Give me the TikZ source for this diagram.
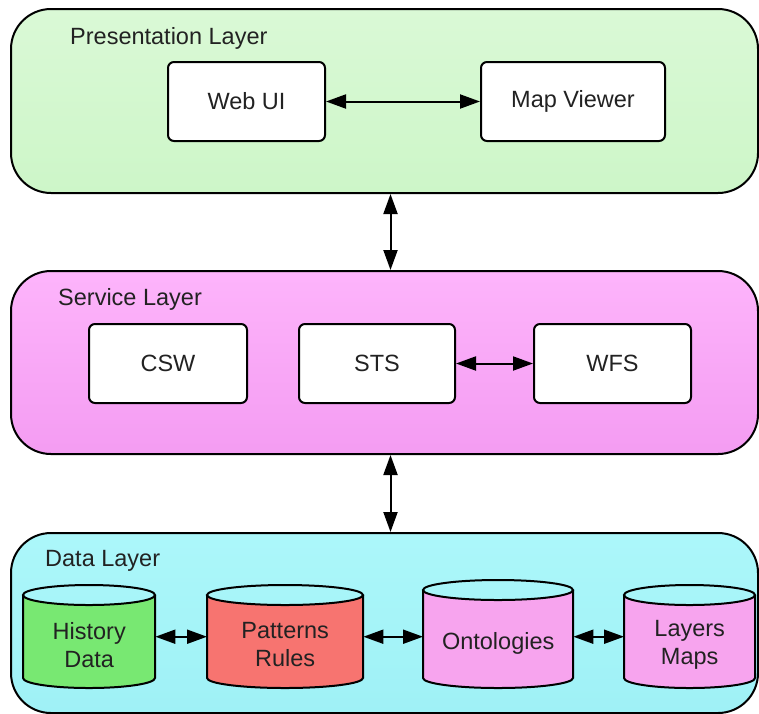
\documentclass[tikz,border=0pt]{standalone}
\usepackage{fontspec}
\setmainfont{Liberation Sans}
\usetikzlibrary{arrows.meta,calc}
\definecolor{txt}{HTML}{222222}
\definecolor{presA}{HTML}{DAF9D6}
\definecolor{presB}{HTML}{CDF6C8}
\definecolor{servA}{HTML}{FDB4FB}
\definecolor{servB}{HTML}{F49CF2}
\definecolor{dataA}{HTML}{ACF7FA}
\definecolor{dataB}{HTML}{9FF1F6}
\definecolor{histC}{HTML}{78E872}
\definecolor{pattC}{HTML}{F77470}
\definecolor{pinkC}{HTML}{F7A4EE}
\tikzset{
  layer/.style={draw=black, line width=2pt, rounded corners=40pt, anchor=north west, inner sep=0pt},
  lbl/.style={anchor=west, font=\fontsize{23.5}{28}\selectfont, text=txt, inner sep=0pt},
  box/.style={draw=black, fill=white, line width=2pt, rounded corners=6pt, anchor=north west, inner sep=0pt, font=\fontsize{23.5}{28}\selectfont, text=txt},
  cylbox/.style={anchor=north west, inner sep=0pt, align=center, font=\fontsize{23.5}{28}\selectfont, text=txt},
  cylline/.style={draw=black, line width=2pt},
  conn/.style={line width=2pt, {Triangle[length=20pt,width=14pt]}-{Triangle[length=20pt,width=14pt]}}
}
% \cylnode{name}{left}{top}{right}{bottom}{fill}{text}{text shift}
\newcommand{\cylnode}[8]{%
  \pgfmathsetmacro{\cw}{#4-#2}\pgfmathsetmacro{\ch}{#5-#3}%
  \pgfmathsetmacro{\crx}{(#4-#2)/2}\pgfmathsetmacro{\cmx}{(#2+#4)/2}%
  \fill[#6] (#2,#3+10) -- (#2,#5-10) arc[start angle=180,end angle=0,x radius=\crx,y radius=10] -- (#4,#3+10) arc[start angle=0,end angle=180,x radius=\crx,y radius=10] -- cycle;
  \draw[cylline] (#2,#3+10) -- (#2,#5-10) arc[start angle=180,end angle=0,x radius=\crx,y radius=10] -- (#4,#3+10);
  \draw[cylline] (\cmx,#3+10) ellipse[x radius=\crx,y radius=10];
  \node[cylbox, minimum width=\cw pt, minimum height=\ch pt] (#1) at (#2,#3) {};
  \node[cylbox, anchor=center] at ($(#1.center)+(0,#8)$) {#7};
}
\begin{document}
\begin{tikzpicture}[x=1pt,y=-1pt]
\useasboundingbox (0,0) rectangle (759,713);
\fill[white] (0,0) rectangle (759,713);
% layers
\node[layer, top color=presA, bottom color=presB, minimum width=747pt, minimum height=184pt] (pres) at (10,8) {};
\node[layer, top color=servA, bottom color=servB, minimum width=747pt, minimum height=183pt] (serv) at (10,270) {};
\node[layer, top color=dataA, bottom color=dataB, minimum width=747pt, minimum height=180pt] (data) at (10,532) {};
\node[lbl] (presl) at (70,38) {Presentation Layer};
\node[lbl] (servl) at (58,299) {Service Layer};
\node[lbl] (datal) at (45,561) {Data Layer};
% presentation boxes
\node[box, minimum width=157pt, minimum height=79pt] (web) at (167,61) {Web UI};
\node[box, minimum width=184pt, minimum height=79pt] (map) at (480,61) {Map Viewer};
% service boxes
\node[box, minimum width=158pt, minimum height=79pt] (csw) at (88,323) {CSW};
\node[box, minimum width=156pt, minimum height=79pt] (sts) at (298,323) {STS};
\node[box, minimum width=157pt, minimum height=79pt] (wfs) at (533,323) {WFS};
% data cylinders
\cylnode{hist}{23}{585}{155}{688}{histC}{History\\Data}{8}
\cylnode{patt}{207}{585}{363}{688}{pattC}{Patterns\\Rules}{8}
\cylnode{onto}{423}{580}{573}{688}{pinkC}{Ontologies}{9}
\cylnode{laym}{624}{585}{755}{688}{pinkC}{Layers\\Maps}{8}
% connectors
\draw[conn] (web.east) -- (map.west);
\draw[conn] (sts.east) -- (wfs.west);
\draw[conn] ([xshift=6pt]pres.south) -- ([xshift=6pt]serv.north);
\draw[conn] ([xshift=6pt]serv.south) -- ([xshift=6pt]data.north);
\draw[conn] (hist.east) -- (patt.west);
\draw[conn] (patt.east) -- (onto.west |- patt.east);
\draw[conn] (onto.east |- laym.west) -- (laym.west);
\end{tikzpicture}
\end{document}
